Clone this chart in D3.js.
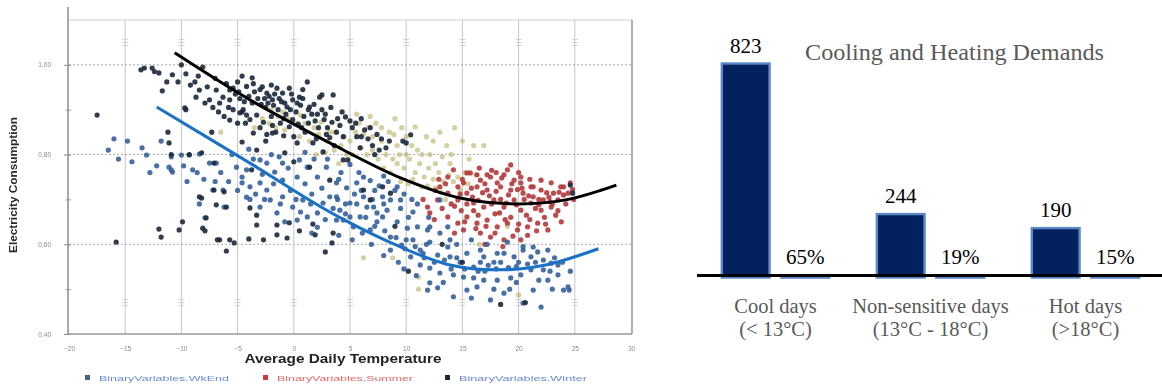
<!DOCTYPE html>
<html>
<head>
<meta charset="utf-8">
<script src="https://cdn.jsdelivr.net/npm/d3@7"></script>
<style>
  html, body { margin: 0; padding: 0; background: #fff; }
  svg { display: block; }
</style>
</head>
<body>
<svg id="chart" width="1162" height="388"></svg>
<script>
// ---------- Scatter: daily electricity consumption vs average daily temperature ----------
// Each point is [average daily temperature (°C), electricity consumption (normalised)]
const winterPts = [
  [-17.5,0.888],[-15.8,0.605],
  [-13.6,0.989],[-13.3,0.993],[-12.6,0.993],[-12.0,0.982],[-11.3,0.962],[-11.7,0.942],[-10.0,1.000],[-10.3,0.962],
  [-9.6,0.980],[-8.8,0.962],[-8.1,0.995],[-8.4,0.944],[-7.7,0.951],[-7.5,0.922],[-8.7,0.928],[-9.7,0.904],[-11.2,0.850],
  [-6.9,0.944],[-6.3,0.928],[-5.7,0.944],[-5.0,0.962],[-3.7,0.971],[-5.7,0.922],[-5.4,0.900],[-4.5,0.900],[-4.2,0.888],
  [-3.7,0.915],[-2.8,0.951],[-2.4,0.937],[-1.9,0.922],[-1.5,0.948],[-1.0,0.937],[-0.6,0.906],[-0.1,0.922],[0.5,0.928],
  [1.2,0.962],[1.4,0.906],[2.3,0.928],[2.5,0.900],[3.5,0.933],[2.5,0.933],
  [-5.2,0.935],[-4.8,0.925],[-4.4,0.918],[-4.0,0.930],[-3.5,0.940],[-3.2,0.925],[-2.9,0.912],[-2.5,0.905],[-2.2,0.930],
  [-1.8,0.910],[-1.4,0.900],[-1.1,0.918],[-0.7,0.890],[-0.3,0.900],[0.2,0.895],[0.6,0.910],[0.9,0.885],[1.6,0.890],
  [1.9,0.875],[-4.6,0.895],[-3.9,0.878],[-3.3,0.888],[-2.7,0.872],[-2.0,0.885],[-1.2,0.870],[-0.4,0.862],[0.4,0.868],
  [-5.8,0.905],[-6.2,0.885],[-5.0,0.870],[-3.0,0.860],[-1.6,0.850],[-0.9,0.842],[0.0,0.840],[1.0,0.850],
  [2.7,0.878],[3.0,0.860],[3.4,0.872],[3.8,0.850],[4.1,0.865],[4.4,0.840],[3.2,0.838],[4.6,0.884],[2.9,0.845],
  [5.2,0.860],[5.6,0.840],[6.3,0.855],[6.6,0.835],[7.0,0.820],[7.4,0.845],[6.8,0.860],[7.6,0.810],[7.2,0.800],
  [10.4,0.844],[10.0,0.826],[9.7,0.830],[4.4,0.788],[8.5,0.830],[5.9,0.815],
  [-9.6,0.900],[-7.3,0.850],[-5.7,0.877],[-4.6,0.828],[-3.3,0.810],[-4.8,0.893],[-1.9,0.848],[-0.8,0.804],[0.3,0.826],
  [0.0,0.784],[1.7,0.826],[2.6,0.806],[1.4,0.772],[3.2,0.743],[4.8,0.788],[6.2,0.721],[6.8,0.699],[7.9,0.728],
  [8.6,0.714],[-3.75,0.766],[-3.9,0.681],[-6.2,0.717],[-7.1,0.721],[-8.2,0.703],[-11.1,0.826],[-10.9,0.800],
  [-9.3,0.800],[-8.2,0.804],[-7.1,0.781],
  [-12.0,0.634],[-11.8,0.616],[-10.2,0.632],[-9.9,0.650],[-7.9,0.630],[-7.8,0.659],[-6.8,0.610],[-6.0,0.585],
  [-5.7,0.610],[-5.3,0.603],[-4.0,0.612],[-3.3,0.643],[-2.7,0.610],[-1.5,0.621],[-0.6,0.614],[0.5,0.630],[1.9,0.621],
  [2.8,0.583],[-1.5,0.643],[-0.4,0.648],[-3.3,0.665],[-8.4,0.706],[-6.9,0.688],[-6.0,0.683],[-8.1,0.636],[-6.6,0.610],
  [3.5,0.625],[3.4,0.603],[1.7,0.645],
  [10.2,0.540],[24.6,0.732],[24.8,0.714],[18.4,0.466],[20.6,0.470],[13.2,0.600],[15.0,0.560],[9.0,0.640],
  [-6.6,0.915],[-6.0,0.958],[-5.4,0.948],[-4.9,0.940],[-4.2,0.952],[-3.6,0.958],[-3.0,0.945],[-2.6,0.925],
  [-2.3,0.915],[-1.7,0.935],[-1.3,0.925],[-0.8,0.915],[-0.2,0.935],[0.3,0.915],[0.8,0.925],[1.3,0.900],
  [1.8,0.912],[2.1,0.890],[2.8,0.890],[3.3,0.905],[3.9,0.880],[4.3,0.895],[5.0,0.875],[5.5,0.870],[6.0,0.880],
  [-4.3,0.870],[-3.6,0.848],[-2.4,0.845],[-1.9,0.865],[-0.9,0.880],[-0.1,0.878],[0.7,0.860],[1.3,0.870],
  [2.2,0.860],[-7.2,0.905],[-6.7,0.895],[-7.9,0.915],[-9.2,0.955],[-12.4,0.985],[-10.8,0.978],[-8.5,0.975],
  [-7.0,0.970],[-4.6,0.975],[-2.0,0.955],[-0.4,0.948],[0.8,0.945],[6.0,0.840],[7.8,0.835],[8.2,0.815],
  [3.6,0.820],[2.0,0.835],[-2.5,0.830]
];

const wkendPts = [
  [-16.5,0.810],[-15.6,0.790],[-14.4,0.784],[-13.5,0.815],[-13.1,0.799],[-12.2,0.775],[-10.9,0.795],[-10.9,0.766],
  [-10.0,0.799],[-9.3,0.799],[-8.4,0.801],[-11.8,0.830],[-12.8,0.760],[-9.8,0.775],[-14.8,0.830],[-16.0,0.835],
  [-11.1,0.772],[-10.8,0.761],[-9.0,0.766],[-8.6,0.760],[-7.5,0.781],[-6.9,0.781],[-7.2,0.721],[-6.3,0.721],
  [-8.4,0.690],[-6.2,0.683],[-7.9,0.659],[-5.1,0.772],[-4.6,0.750],[-3.9,0.728],[-3.0,0.737],[-2.4,0.721],
  [-2.1,0.699],[-1.0,0.706],[-3.0,0.683],[-3.9,0.700],[-1.5,0.670],[-0.1,0.683],[0.8,0.699],[1.2,0.661],
  [2.1,0.670],[2.6,0.692],[3.2,0.706],[3.8,0.737],[4.7,0.726],[5.6,0.737],[6.2,0.750],[6.5,0.683],[5.6,0.690],
  [5.0,0.661],[7.4,0.670],[7.9,0.661],[8.6,0.699],[9.2,0.728],[3.8,0.654],[2.1,0.750],[1.2,0.772],[0.3,0.750],
  [-1.0,0.743],[-1.7,0.761],[-2.4,0.781],[-1.0,0.781],[0.5,0.788],[-3.0,0.788],[-4.2,0.766],[-4.6,0.737],
  [0.3,0.654],[2.1,0.638],
  [-5.5,0.800],[-4.0,0.812],[-2.0,0.800],[-0.5,0.770],[1.8,0.790],[2.9,0.772],[4.2,0.760],[5.0,0.778],[6.8,0.742],
  [7.6,0.730],[8.0,0.752],[9.8,0.712],[10.5,0.700],[-6.5,0.760],[-5.8,0.740],[-2.8,0.756],[-0.3,0.720],[1.0,0.735],
  [2.5,0.725],[3.9,0.700],[4.6,0.690],[-1.8,0.735],[-3.4,0.712],[0.2,0.700],[1.6,0.712],
  [3.8,0.706],[5.0,0.692],[6.2,0.706],[7.1,0.683],[5.9,0.661],[7.4,0.650],[8.3,0.676],[9.2,0.650],[10.1,0.636],
  [8.6,0.616],[9.6,0.598],[10.6,0.610],[11.25,0.587],[12.1,0.605],[12.8,0.576],[13.7,0.594],[13.9,0.572],
  [14.8,0.560],[15.4,0.580],[16.0,0.549],[16.9,0.572],[17.8,0.560],[18.7,0.580],[19.6,0.572],[20.4,0.587],
  [21.1,0.572],[21.7,0.583],[22.2,0.565],[22.9,0.558],[23.5,0.554],[21.1,0.543],[20.2,0.532],[19.3,0.525],
  [18.1,0.520],[16.9,0.520],[16.0,0.525],[15.1,0.527],[14.2,0.532],[13.0,0.536],[12.1,0.547],[12.8,0.503],
  [11.9,0.498],[14.2,0.483],[15.4,0.498],[16.3,0.505],[17.5,0.476],[18.7,0.491],[20.4,0.469],[22.0,0.460],
  [21.3,0.498],[22.6,0.520],[24.0,0.498],[24.5,0.498],[23.5,0.532],[22.2,0.543],[11.0,0.639],[11.9,0.632],
  [13.0,0.625],[13.9,0.610],[10.6,0.672],[9.5,0.699],[7.9,0.706],[6.8,0.632],[5.3,0.639],[4.4,0.654],[4.1,0.676],
  [6.1,0.625],[8.6,0.587],[10.4,0.572],[9.3,0.560],[11.25,0.554],[12.1,0.514],
  [13.0,0.699],[13.7,0.639],[12.1,0.639],[16.6,0.587],[18.1,0.580],[20.4,0.595],[21.3,0.594],[22.6,0.587],
  [23.2,0.570],[24.4,0.505],[8.0,0.690],[9.0,0.720],[10.2,0.660],[14.5,0.600],[15.8,0.610],[17.2,0.600],
  [19.0,0.605],[11.5,0.580],[14.0,0.545],[17.0,0.540],[19.8,0.550],[21.8,0.520],[13.3,0.515],[15.8,0.480],
  [19.2,0.500],[16.6,0.560],[18.0,0.545],[20.8,0.556],[10.0,0.610],[11.8,0.600],[7.0,0.700],
  [-7.0,0.740],[-5.0,0.720],[-4.2,0.705],[-2.6,0.700],[-1.2,0.690],[0.6,0.672],[1.5,0.690],[2.8,0.655],
  [3.5,0.680],[4.6,0.668],[5.4,0.712],[6.4,0.660],[7.2,0.640],[8.1,0.630],[9.1,0.615],[9.9,0.590],[10.8,0.595],
  [11.6,0.570],[12.5,0.560],[13.4,0.565],[14.5,0.570],[15.2,0.545],[16.4,0.540],[17.3,0.553],[18.4,0.560],
  [19.1,0.548],[20.0,0.560],[21.5,0.560],[22.8,0.540],[23.9,0.560],[24.6,0.540],[-8.0,0.745],[-9.5,0.740],
  [-3.6,0.790],[-1.3,0.795],[1.0,0.805],[3.0,0.790],[4.0,0.745],[5.8,0.760],[6.0,0.720],[7.2,0.720],[8.4,0.740],
  [9.5,0.680],[11.0,0.690],[12.0,0.660],[-0.8,0.650],[1.6,0.625],[4.0,0.620],[5.2,0.610],[6.9,0.600],[8.0,0.575],
  [9.8,0.545],[10.9,0.530],[17.8,0.500],[19.8,0.515],[23.0,0.500]
];

const summerPts = [
  [15.7,0.759],[16.6,0.743],[17.5,0.750],[18.7,0.755],[19.6,0.743],[20.2,0.737],[21.1,0.728],[22.0,0.721],
  [23.1,0.714],[23.75,0.728],[13.7,0.750],[14.6,0.728],[15.4,0.714],[16.0,0.692],[16.9,0.683],[17.8,0.699],
  [18.7,0.683],[19.6,0.699],[20.2,0.676],[21.1,0.692],[22.0,0.676],[22.9,0.683],[12.8,0.699],[12.1,0.670],
  [13.7,0.661],[14.6,0.647],[15.4,0.661],[16.3,0.647],[17.2,0.654],[18.1,0.639],[19.0,0.647],[19.9,0.632],
  [20.8,0.639],[21.7,0.647],[22.6,0.632],[17.5,0.616],[18.7,0.610],[17.9,0.625],[20.2,0.610],[16.6,0.625],
  [15.1,0.632],[15.1,0.737],[16.3,0.728],[17.2,0.721],[18.4,0.728],[19.3,0.721],[20.4,0.714],[21.3,0.706],
  [22.2,0.699],[23.5,0.699],[24.4,0.714],[14.6,0.699],[15.4,0.690],[13.7,0.714],[13.0,0.728],[11.9,0.683],
  [14.2,0.766],[19.0,0.766],[20.2,0.750],[22.0,0.743],[22.9,0.737],[18.1,0.737],[15.4,0.759],[16.5,0.770],
  [17.2,0.755],[19.3,0.777],[20.0,0.760],[21.3,0.728],[22.5,0.715],[24.0,0.728],[24.6,0.737],
  [14.0,0.690],[14.9,0.675],[15.9,0.705],[16.8,0.715],[17.6,0.690],[18.3,0.670],[19.1,0.710],[19.8,0.688],
  [20.7,0.665],[21.5,0.680],[22.3,0.660],[23.3,0.665],[24.2,0.690],[13.2,0.680],[12.5,0.655],[16.4,0.665],
  [18.8,0.655],[21.0,0.655],[23.8,0.650],[17.0,0.735],[18.0,0.760],[19.9,0.722],[21.8,0.700],[15.0,0.745],
  [12.6,0.720],[11.5,0.700],[18.6,0.595],[17.0,0.600],[20.8,0.620],[19.5,0.618],[14.3,0.625],[23.5,0.675],
  [24.9,0.700],[16.0,0.675],[18.4,0.700],[20.5,0.700],[22.8,0.695],
  [14.8,0.712],[15.8,0.725],[16.4,0.698],[17.4,0.708],[18.0,0.718],[18.9,0.692],[19.4,0.735],[20.3,0.725],
  [20.9,0.708],[21.8,0.688],[22.7,0.705],[23.6,0.716],[13.5,0.735],[14.3,0.685],[15.2,0.650],[16.2,0.635],
  [17.1,0.640],[17.9,0.668],[19.3,0.660],[20.0,0.645],[21.6,0.630],[22.4,0.645],[17.6,0.765],[18.5,0.748],
  [16.3,0.755],[12.9,0.745],[24.0,0.710],[24.8,0.722],[21.0,0.745],[23.0,0.690]
];

const otherPts = [
  [-2.8,0.880],[-2.2,0.870],[-1.6,0.860],[-1.0,0.895],[-0.5,0.880],[0.2,0.870],[-2.0,0.900],[-0.8,0.855],
  [1.0,0.870],[1.8,0.860],[2.2,0.845],[3.0,0.830],[4.7,0.800],[5.0,0.830],[5.5,0.850],[5.8,0.870],[6.0,0.815],
  [6.5,0.800],[7.0,0.840],[7.3,0.870],[7.8,0.830],[8.2,0.800],[8.5,0.850],[8.8,0.790],[9.2,0.820],[9.6,0.860],
  [9.0,0.880],[5.6,0.890],[6.8,0.885],[8.6,0.760],[9.2,0.780],[9.8,0.770],[10.3,0.790],[10.8,0.760],[11.2,0.780],
  [11.6,0.750],[12.0,0.770],[12.4,0.745],[12.9,0.760],[13.3,0.740],[13.8,0.755],[14.2,0.740],[14.6,0.750],
  [10.5,0.820],[11.0,0.810],[11.8,0.840],[12.4,0.830],[13.0,0.850],[13.6,0.820],[14.3,0.860],[15.0,0.830],
  [16.0,0.820],[16.9,0.820],[10.0,0.840],[10.8,0.862],[12.1,0.800],[13.2,0.795],[9.5,0.740],[10.2,0.735],
  [11.4,0.728],[12.6,0.725],[8.0,0.770],[7.5,0.790],[4.2,0.820],[3.6,0.810],[2.8,0.805],[1.4,0.830],[0.5,0.840],
  [6.2,0.570],[8.8,0.570],[11.1,0.527],[11.1,0.500],[20.0,0.487],[13.5,0.700],[14.8,0.720],[15.5,0.735],
  [-3.5,0.860],[-6.5,0.850],[2.0,0.800],[4.0,0.780],[19.0,0.640],[16.5,0.600],
  [-1.4,0.885],[0.6,0.888],[2.4,0.872],[3.6,0.850],[4.5,0.840],[6.2,0.845],[7.8,0.860],[8.9,0.845],[10.0,0.800],
  [11.4,0.800],[12.6,0.780],[13.9,0.780],[15.2,0.760],[16.2,0.755],[9.4,0.800],[10.6,0.745],[11.9,0.730],
  [13.1,0.715],[7.0,0.810],[5.2,0.800],[6.6,0.860],[3.2,0.850],[14.0,0.800],[15.6,0.790]
];

// Fitted trend curves (upper = total demand, lower = weekend)
const blackCurve = [[-10.6,1.027],[-3.9,0.922],[3.2,0.826],[9.5,0.748],[14.8,0.703],[19.7,0.690],[24.2,0.699],[28.7,0.732]];
const blueCurve  = [[-12.2,0.906],[-3.9,0.781],[3.2,0.672],[9.5,0.594],[13.9,0.554],[18.1,0.543],[22.4,0.554],[27.1,0.590]];

const xTicks = [-20,-15,-10,-5,0,5,10,15,20,25,30];
const yTicks = [0.40,0.60,0.80,1.00];
const yTickLabels = ["0,40","0,60","0,80","1,00"];
const yMinorTicks = [0.50,0.70,0.90];
const legendLabels = ["BinaryVariables.WkEnd","BinaryVariables.Summer","BinaryVariables.Winter"];

// ---------- Bars: number of days per temperature class ----------
const categories  = ["Cool days","Non-sensitive days","Hot days"];
const categorySub = ["(< 13°C)","(13°C - 18°C)","(>18°C)"];
const dayCounts   = [823,244,190];
const dayShares   = [0.65,0.19,0.15];

const svg = d3.select("#chart");
const defs = svg.append("defs");
defs.append("filter").attr("id","soft")
  .attr("x","-5%").attr("y","-5%").attr("width","110%").attr("height","110%")
  .append("feGaussianBlur").attr("stdDeviation",0.55);
defs.append("filter").attr("id","softPts")
  .append("feGaussianBlur").attr("stdDeviation",0.75);

// ===== Left panel =====
const x = d3.scaleLinear().domain([-20,30]).range([69,631]);
const y = d3.scaleLinear().domain([0.40,1.10]).range([334,20]);

const left = svg.append("g").attr("filter","url(#soft)");

// vertical grid
left.append("g").selectAll("line")
  .data(xTicks.slice(1,-1)).join("line")
  .attr("x1",d=>x(d)).attr("x2",d=>x(d))
  .attr("y1",y(1.10)).attr("y2",y(0.40))
  .attr("stroke","#c6c6c6").attr("stroke-width",1);

// small marks on the vertical grid lines
const markRows = [1.05,0.47];
xTicks.slice(1,-1).forEach(t => {
  markRows.forEach(v => {
    [-3,0,3].forEach(o => {
      left.append("line")
        .attr("x1",x(t)-3).attr("x2",x(t)+3)
        .attr("y1",y(v)+o).attr("y2",y(v)+o)
        .attr("stroke","#c8c8c8").attr("stroke-width",0.8);
    });
  });
});

// horizontal dotted grid
left.append("g").selectAll("line")
  .data(yTicks.slice(1)).join("line")
  .attr("x1",x(-20)).attr("x2",x(30))
  .attr("y1",d=>y(d)).attr("y2",d=>y(d))
  .attr("stroke","#a9a9a9").attr("stroke-width",1)
  .attr("stroke-dasharray","2,2");

// frame
left.append("line").attr("x1",x(-20)).attr("x2",x(30)+1).attr("y1",y(1.10)).attr("y2",y(1.10))
  .attr("stroke","#cfcfcf").attr("stroke-width",1.2);
left.append("line").attr("x1",x(30)+1).attr("x2",x(30)+1).attr("y1",y(1.10)).attr("y2",y(0.40))
  .attr("stroke","#9c9c9c").attr("stroke-width",1.6);

// axes
const yAxis = d3.axisLeft(y).tickValues(yTicks).tickSize(5).tickPadding(12)
  .tickFormat((d,i)=>yTickLabels[i]);
const yAxisG = left.append("g").attr("transform",`translate(${x(-20)-1},0)`).call(yAxis);
yAxisG.select(".domain").remove();
yAxisG.selectAll(".tick line").attr("stroke","#8c8c8c").attr("x2",-4).attr("x1",3);
yAxisG.selectAll(".tick text").attr("fill","#8a8a8a").attr("font-size",6.5)
  .attr("font-family","Liberation Sans, Arial, sans-serif");

const yMinor = d3.axisLeft(y).tickValues(yMinorTicks).tickSize(2).tickFormat("");
const yMinorG = left.append("g").attr("transform",`translate(${x(-20)-1},0)`).call(yMinor);
yMinorG.select(".domain").remove();
yMinorG.selectAll(".tick line").attr("stroke","#9a9a9a").attr("x1",3);

left.append("line").attr("x1",x(-20)-1).attr("x2",x(-20)-1).attr("y1",7).attr("y2",y(0.40))
  .attr("stroke","#8c8c8c").attr("stroke-width",1.5);
left.append("line").attr("x1",x(-20)-1).attr("x2",x(30)+1).attr("y1",y(0.40)).attr("y2",y(0.40))
  .attr("stroke","#9a9a9a").attr("stroke-width",1.5);

const xAxis = d3.axisBottom(x).tickValues(xTicks).tickSize(0).tickPadding(12).tickFormat(d3.format("d"));
const xAxisG = left.append("g").attr("transform",`translate(0,${y(0.40)})`).call(xAxis);
xAxisG.select(".domain").remove();
xAxisG.selectAll(".tick text").attr("fill","#8a8a8a").attr("font-size",6.5)
  .attr("font-family","Liberation Sans, Arial, sans-serif");

// axis titles
left.append("text").attr("x",343).attr("y",363).attr("text-anchor","middle")
  .attr("font-family","Liberation Sans, Arial, sans-serif").attr("font-weight","bold")
  .attr("font-size",12.5).attr("fill","#222").attr("textLength",197).attr("lengthAdjust","spacingAndGlyphs")
  .text("Average Daily Temperature");
left.append("text").attr("transform","translate(17,185) rotate(-90)").attr("text-anchor","middle")
  .attr("font-family","Liberation Sans, Arial, sans-serif").attr("font-weight","bold")
  .attr("font-size",10.5).attr("fill","#2a2a2a").attr("textLength",136).attr("lengthAdjust","spacingAndGlyphs")
  .text("Electricity Consumption");

// legend
const legendSwatch = ["#4a5f86","#c93b3b","#1e2a3a"];
const legendText   = ["#6a8ad2","#e06a6a","#6a8ad2"];
const legendX      = [85,263,445];
const legendW      = [130,136,128];
const legend = left.append("g");
legendLabels.forEach((lab,i) => {
  legend.append("rect").attr("x",legendX[i]).attr("y",375).attr("width",5).attr("height",5)
    .attr("fill",legendSwatch[i]);
  legend.append("text").attr("x",legendX[i]+14).attr("y",381)
    .attr("font-family","Liberation Sans, Arial, sans-serif").attr("font-size",8)
    .attr("fill",legendText[i]).attr("textLength",legendW[i]).attr("lengthAdjust","spacingAndGlyphs")
    .text(lab);
});

// scatter points
const pts = svg.append("g").attr("filter","url(#softPts)");
function drawSeries(data, fill, opacity){
  pts.append("g").selectAll("circle").data(data).join("circle")
    .attr("cx",d=>x(d[0])).attr("cy",d=>y(d[1])).attr("r",2.6)
    .attr("fill",fill).attr("fill-opacity",opacity);
}
drawSeries(otherPts, "#b9b164", 0.6);
drawSeries(summerPts, "#b3393a", 0.9);
drawSeries(wkendPts, "#34609a", 0.9);
drawSeries(winterPts, "#1c2a3d", 0.92);

// trend curves
const line = d3.line().x(d=>x(d[0])).y(d=>y(d[1])).curve(d3.curveCatmullRom.alpha(0.5));
svg.append("path").datum(blackCurve).attr("d",line)
  .attr("fill","none").attr("stroke","#000").attr("stroke-width",3);
svg.append("path").datum(blueCurve).attr("d",line)
  .attr("fill","none").attr("stroke","#1a72c6").attr("stroke-width",3);

// ===== Right panel =====
const serif = "Liberation Serif, Times New Roman, serif";
const x0 = d3.scaleBand().domain(categories).range([698,1163]);
const x1 = d3.scaleBand().domain(["count","share"]).range([0,x0.bandwidth()])
  .paddingInner(0.2).paddingOuter(0.4);
const yb = d3.scaleLinear().domain([0,823]).range([277.5,63.5]);

const right = svg.append("g");
const groups = right.selectAll("g.cat").data(categories).join("g")
  .attr("transform",d=>`translate(${x0(d)},0)`);

// day-count bars
groups.append("rect")
  .attr("x",x1("count")).attr("width",x1.bandwidth())
  .attr("y",(d,i)=>yb(dayCounts[i])).attr("height",(d,i)=>yb(0)-yb(dayCounts[i]))
  .attr("fill","#03215f").attr("stroke","#5a88c6").attr("stroke-width",2.4);

// share bars
groups.append("rect")
  .attr("x",x1("share")).attr("width",x1.bandwidth())
  .attr("y",(d,i)=>yb(dayShares[i])).attr("height",(d,i)=>yb(0)-yb(dayShares[i]))
  .attr("fill","#5a88c6").attr("stroke","#5a88c6").attr("stroke-width",2.6);

// baseline
right.append("line").attr("x1",697).attr("x2",1162).attr("y1",275.5).attr("y2",275.5)
  .attr("stroke","#000").attr("stroke-width",3);

// value labels
groups.append("text")
  .attr("x",x1("count")+x1.bandwidth()/2).attr("y",(d,i)=>yb(dayCounts[i])-11)
  .attr("text-anchor","middle").attr("font-family",serif).attr("font-size",21).attr("fill","#000")
  .text((d,i)=>dayCounts[i]);
groups.append("text")
  .attr("x",x1("share")+x1.bandwidth()/2).attr("y",(d,i)=>yb(dayShares[i])-13)
  .attr("text-anchor","middle").attr("font-family",serif).attr("font-size",21).attr("fill","#000")
  .text((d,i)=>d3.format(".0%")(dayShares[i]));

// category labels
groups.append("text")
  .attr("x",x0.bandwidth()/2).attr("y",313)
  .attr("text-anchor","middle").attr("font-family",serif).attr("font-size",20.5).attr("fill","#595959")
  .text(d=>d);
groups.append("text")
  .attr("x",x0.bandwidth()/2).attr("y",336)
  .attr("text-anchor","middle").attr("font-family",serif).attr("font-size",20.5).attr("fill","#595959")
  .text((d,i)=>categorySub[i]);

// title
right.append("text").attr("x",805).attr("y",60)
  .attr("font-family",serif).attr("font-size",23).attr("fill","#595959")
  .attr("textLength",299).attr("lengthAdjust","spacingAndGlyphs")
  .text("Cooling and Heating Demands");
</script>
</body>
</html>
